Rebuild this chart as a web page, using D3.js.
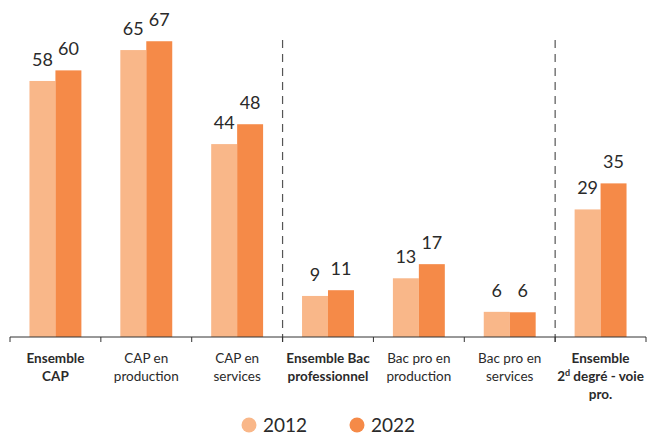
<!DOCTYPE html>
<html>
<head>
<meta charset="utf-8">
<script src="https://cdn.jsdelivr.net/npm/d3@7"></script>
<style>
  body { margin: 0; background: #fff; overflow: hidden; }
  svg { display: block; font-family: Lato, "Noto Sans", sans-serif; }
</style>
</head>
<body>
<div id="chart"></div>
<script>
const categories = ["ens_cap", "cap_prod", "cap_serv", "ens_bac", "bac_prod", "bac_serv", "ens_total"];
const categoryLines = [
  ["Ensemble", "CAP"],
  ["CAP en", "production"],
  ["CAP en", "services"],
  ["Ensemble Bac", "professionnel"],
  ["Bac pro en", "production"],
  ["Bac pro en", "services"],
  ["Ensemble", "2|d| degré - voie", "pro."]
];
const boldCategories = ["ens_cap", "ens_bac", "ens_total"];
const years = ["2012", "2022"];
const values2012 = [58, 65, 43.7, 9.3, 13.3, 5.7, 28.9];
const values2022 = [60.4, 67, 48.2, 10.6, 16.5, 5.6, 34.8];
const separators = ["cap_serv", "bac_serv"];
const colors = ["#f9b789", "#f58a48"];

const width = 648;
const height = 436;
const margin = { top: 28, right: 2, bottom: 99, left: 10 };
const axisY = height - margin.bottom;

const data = categories.flatMap((c, i) => [
  { cat: c, year: years[0], v: values2012[i] },
  { cat: c, year: years[1], v: values2022[i] }
]);

const svg = d3.select("#chart")
  .append("svg")
  .attr("width", width)
  .attr("height", height);

const x0 = d3.scaleBand()
  .domain(categories)
  .range([margin.left, width - margin.right])
  .padding(0);

const x1 = d3.scaleBand()
  .domain(years)
  .range([0, x0.bandwidth()])
  .paddingInner(0)
  .paddingOuter(0.75);

const y = d3.scaleLinear()
  .domain([0, 70])
  .range([axisY, margin.top]);

const color = d3.scaleOrdinal().domain(years).range(colors);
const barX = d => x0(d.cat) + x1(d.year);

// bars
svg.append("g").selectAll("rect")
  .data(data)
  .join("rect")
  .attr("x", barX)
  .attr("y", d => y(d.v))
  .attr("width", x1.bandwidth())
  .attr("height", d => axisY - y(d.v))
  .attr("fill", d => color(d.year));

svg.append("g").selectAll("text")
  .data(data)
  .join("text")
  .attr("x", d => barX(d) + x1.bandwidth() / 2)
  .attr("y", d => y(d.v) - 15)
  .attr("text-anchor", "middle")
  .attr("font-size", 18)
  .attr("fill", "#2a2a2a")
  .text(d => d3.format(".0f")(d.v));

// separators
svg.append("g").selectAll("line")
  .data(separators)
  .join("line")
  .attr("x1", d => x0(d) + x0.bandwidth())
  .attr("x2", d => x0(d) + x0.bandwidth())
  .attr("y1", y(70) + 12)
  .attr("y2", axisY + 8)
  .attr("stroke", "#555")
  .attr("stroke-width", 1.2)
  .attr("stroke-dasharray", "8,6");

// axis
svg.append("line")
  .attr("x1", x0.range()[0])
  .attr("x2", x0.range()[1])
  .attr("y1", axisY)
  .attr("y2", axisY)
  .attr("stroke", "#333");

const boundaries = categories.map(c => x0(c)).concat([x0.range()[1]]);
svg.append("g").selectAll("line")
  .data(boundaries)
  .join("line")
  .attr("x1", d => d)
  .attr("x2", d => d)
  .attr("y1", axisY)
  .attr("y2", axisY + 5)
  .attr("stroke", "#333");

const labels = svg.append("g").selectAll("text")
  .data(categories)
  .join("text")
  .attr("text-anchor", "middle")
  .attr("font-size", 13.5)
  .attr("fill", "#2a2a2a")
  .attr("font-weight", d => boldCategories.includes(d) ? 700 : 400);

labels.each(function(d, i) {
  const t = d3.select(this);
  const cx = x0(d) + x0.bandwidth() / 2;
  categoryLines[i].forEach((line, j) => {
    const parts = line.split("|");
    t.append("tspan")
      .attr("x", cx)
      .attr("y", axisY + 26 + j * 18)
      .text(parts[0]);
    if (parts.length > 1) {
      t.append("tspan")
        .attr("font-size", 9)
        .attr("dy", -5)
        .text(parts[1]);
      t.append("tspan")
        .attr("dy", 5)
        .text(parts[2]);
    }
  });
});

// legend
const legendX = d3.scaleOrdinal().domain(years).range([249, 357]);
const legendY = 425;

svg.append("g").selectAll("circle")
  .data(years)
  .join("circle")
  .attr("cx", d => legendX(d))
  .attr("cy", legendY)
  .attr("r", 7.5)
  .attr("fill", d => color(d));

svg.append("g").selectAll("text")
  .data(years)
  .join("text")
  .attr("x", d => legendX(d) + 14)
  .attr("y", legendY + 7)
  .attr("font-size", 19)
  .attr("fill", "#2a2a2a")
  .text(d => d);
</script>
</body>
</html>
